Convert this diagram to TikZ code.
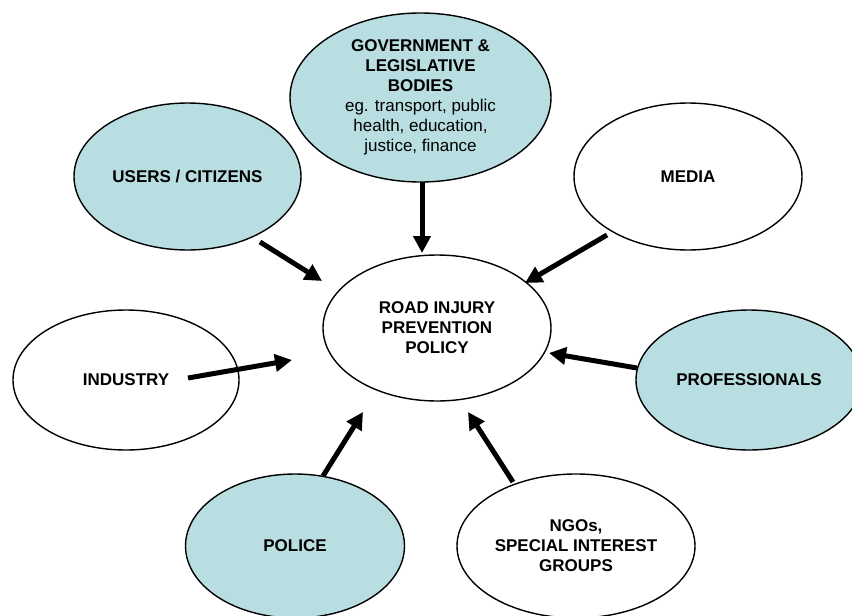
\documentclass[tikz,border=0pt]{standalone}
\usepackage{fontspec}
\setmainfont{Liberation Sans}
\usetikzlibrary{shapes.geometric,arrows.meta}
\definecolor{paleteal}{RGB}{184,222,225}
\begin{document}
\begin{tikzpicture}[x=1pt,y=-1pt,
  actor/.style={shape=ellipse,draw=black,line width=1.4pt,inner sep=0pt,
    align=center,font=\fontsize{17}{20}\selectfont\bfseries},
  shaded/.style={actor,fill=paleteal},
  plain/.style={actor,fill=white},
  push/.style={line width=5pt,-{Triangle[length=17pt,width=17pt]}}]
\useasboundingbox (0,0) rectangle (852,616);

% stakeholders around the policy
\node[shaded,minimum width=261pt,minimum height=169pt,
      font=\fontsize{17}{20}\selectfont] (gov) at (420.5,97.5)
  {\textbf{GOVERNMENT \&}\\\textbf{LEGISLATIVE}\\\textbf{BODIES}\\eg. transport, public\\health, education,\\justice, finance};
\node[shaded,minimum width=227pt,minimum height=147pt] (users) at (187.5,176.5) {USERS / CITIZENS};
\node[plain,minimum width=228pt,minimum height=147pt] (media) at (688,176.5) {MEDIA};
\node[plain,minimum width=228pt,minimum height=146pt] (road) at (437,328) {ROAD INJURY\\PREVENTION\\POLICY};
\node[plain,minimum width=226pt,minimum height=140pt] (industry) at (126,380) {INDUSTRY};
\node[shaded,minimum width=226pt,minimum height=140pt] (prof) at (749,380) {PROFESSIONALS};
\node[shaded,minimum width=219pt,minimum height=144pt] (police) at (295,546) {POLICE};
\node[plain,minimum width=238pt,minimum height=144pt] (ngo) at (576,546) {NGOs,\\SPECIAL INTEREST\\GROUPS};

% arrow ends
\coordinate (govT) at (422,182);   \coordinate (govH) at (422,253);
\coordinate (usersT) at (260,242); \coordinate (usersH) at (322,281);
\coordinate (mediaT) at (607,235); \coordinate (mediaH) at (525,283);
\coordinate (indT) at (188,378);   \coordinate (indH) at (292,360);
\coordinate (profT) at (637,368);  \coordinate (profH) at (549,353);
\coordinate (polT) at (323,476);   \coordinate (polH) at (363,412);
\coordinate (ngoT) at (513,482);   \coordinate (ngoH) at (468,412);

% influences on the policy
\draw[push] (govT) -- (govH);
\draw[push] (usersT) -- (usersH);
\draw[push] (mediaT) -- (mediaH);
\draw[push] (indT) -- (indH);
\draw[push] (profT) -- (profH);
\draw[push] (polT) -- (polH);
\draw[push] (ngoT) -- (ngoH);
\end{tikzpicture}
\end{document}
